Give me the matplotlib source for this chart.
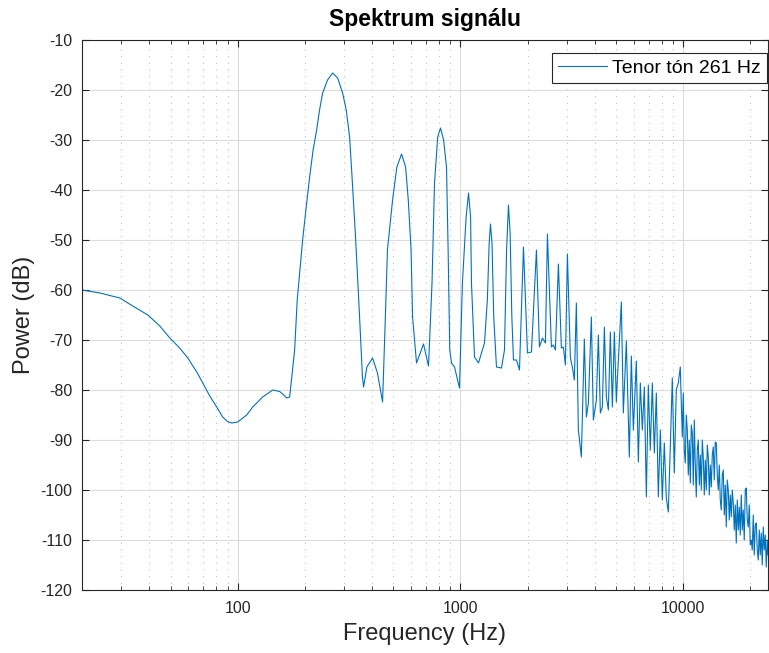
import numpy as np
import matplotlib
matplotlib.use("Agg")
import matplotlib.pyplot as plt
from matplotlib.ticker import FixedLocator, NullFormatter

plt.rcParams['font.family'] = ['Liberation Sans', 'DejaVu Sans']
plt.rcParams['axes.unicode_minus'] = False

# frekvencie (Hz) a vykon (dB) odcitane z grafu
freq_low = [20, 22, 24.1, 29.6, 33.8, 39.5, 44.7, 49.6, 54.9, 59.7, 65.5, 69.7, 74.9, 80.5, 85.6,
            90, 94.0, 100, 109.7, 116.8, 129.5, 143.6, 154.3, 160, 165.9, 171.1]
db_low = [-60, -60.3, -60.6, -61.6, -63.2, -65, -67.2, -69.6, -71.6, -73.6, -76.4, -78.6, -81.2, -83.4, -85.4,
          -86.3, -86.6, -86.4, -85, -83.4, -81.4, -80, -80.3, -80.9, -81.6, -81.4]

freq_mid = [180.1, 185, 195.6, 203, 210.3, 218, 226.1, 233, 240.6, 253, 266.7, 281, 295.8, 307, 317.9,
            326, 338, 352.4, 363, 367.3, 380, 403.0, 424, 446.9, 460, 470, 495.6, 518, 543.8,
            567, 583, 600, 609.3, 634.9, 682.5, 718.6, 745, 764.5, 790, 813.4, 840, 865.4,
            880, 895, 911.3, 940.0, 989.7, 1020, 1060, 1086.4, 1110, 1120, 1155.7, 1204.4, 1281.4,
            1320, 1345, 1363.2, 1385, 1410, 1450.4, 1527.3, 1575.3, 1610, 1641.7, 1670, 1700,
            1729.0, 1783.4, 1839.5, 1917.1, 1997.9, 2081.9, 2191.9, 2261.1, 2332.2, 2405.6,
            2455.5, 2559.0, 2612.4, 2666.7, 2750.5, 2837.0, 2896.3, 2956.8, 3018.5, 3113.6,
            3177.6, 3243.7, 3311.5, 3380.7, 3487.0, 3596.4, 3672.8, 3749.5, 3867.0, 3948.0,
            4072.4, 4157.0, 4244.0, 4332.4, 4423.0, 4515.2, 4609.6, 4706.0, 4804.1, 4904.4,
            5006.4, 5058.3, 5164.2, 5272.4, 5381.6, 5551.3, 5725.1, 5844.9, 5967.3, 6154.8,
            6284.1, 6415.6, 6549.0, 6686.0, 6825.9, 6966.7, 7112.5, 7261.3, 7413.1, 7567.1,
            7725.2, 7886.8, 8050.3, 8218.8, 8390.9, 8564.6, 8744.0, 8927.0, 9111.7, 9302.5,
            9497.2, 9693.9, 9896.6]
db_mid = [-72, -62, -50, -43.4, -37.4, -32, -28, -24, -20.6, -18, -16.6, -17.6, -20.6, -24, -29.4,
          -37.4, -49.4, -65.4, -77.4, -79.4, -75.4, -73.6, -76.6, -82.4, -65.4, -52, -42, -35.4, -32.8,
          -35.4, -42, -52, -65.4, -74.6, -70.8, -75.2, -58.6, -38.6, -29.4, -27.6, -30, -35.4,
          -52, -72, -74.6, -75.4, -79.6, -58.6, -45.4, -40.6, -45.4, -58.6, -73.4, -74.6, -70.6,
          -62, -50.6, -46.8, -50.6, -65.4, -75.4, -75.6, -72, -52, -43, -48.6, -65.4,
          -74, -74, -76, -51.4, -72.6, -72.4, -52, -71.4, -69.6, -70.6,
          -48.8, -71.4, -71, -72, -54.8, -71.6, -71.4, -75, -52.8, -73.6,
          -75.4, -78, -62.6, -88, -93.4, -69.8, -85.4, -82.6, -65.4, -86,
          -82, -69, -84.6, -83.4, -67.4, -81.4, -84, -68.4, -83.4, -68.4,
          -82.4, -78, -70, -62.4, -84.6, -70.2, -93.4, -73.2, -88, -74.2,
          -94.4, -78.6, -88, -79.4, -101.4, -79, -92, -78.6, -92.6, -80.6,
          -101.4, -88, -102, -90.6, -101.6, -104.4, -91.4, -77.6, -96.6, -80,
          -78.6, -75.4, -89.4]

freq_high = [10000, 10104, 10209, 10315, 10422, 10530, 10640, 10750, 10862, 10975, 11089, 11204,
             11320, 11438, 11556, 11676, 11798, 11920, 12044, 12169, 12296, 12423, 12552, 12683,
             12814, 12947, 13082, 13217, 13355, 13493, 13633, 13775, 13918, 14063, 14209, 14356,
             14505, 14656, 14808, 14962, 15117, 15274, 15433, 15593, 15755, 15918, 16084, 16251,
             16419, 16590, 16762, 16936, 17112, 17290, 17469, 17651, 17834, 18019, 18206, 18395,
             18586, 18779, 18974, 19171, 19370, 19571, 19774, 19980, 20187, 20397, 20608, 20822,
             21038, 21257, 21477, 21700, 21926, 22153, 22383, 22616, 22850, 23088, 23327, 23570,
             23814, 24000]
db_high = [-80.6, -92, -94.6, -85, -88, -97, -90, -98.6, -87, -88.6, -99, -86,
           -95, -101.4, -92, -90, -99, -93, -100, -90, -93.6, -101, -94, -100,
           -91, -93.4, -101, -95, -99.4, -93, -91.4, -98, -90.4, -90.6, -97, -100,
           -95, -102, -104, -97, -96, -105, -99, -107.4, -98, -100, -106, -101,
           -105.4, -100, -102.6, -108, -103, -110.6, -102, -108, -103.4, -109, -101, -108,
           -104, -110, -100, -99.6, -106, -107.4, -103, -111, -110, -112, -105, -113,
           -107, -106.6, -112, -114, -108, -113, -108.6, -115, -107.4, -112, -109, -115.4,
           -110, -113]

freq = np.array(freq_low + freq_mid + freq_high)
power = np.array(db_low + db_mid + db_high)

fig = plt.figure(figsize=(7.69, 6.53), dpi=100)
ax = fig.add_axes([0.1066, 0.0965, 0.8921, 0.8422])

ax.semilogx(freq, power, color='#0072BD', linewidth=0.8, label='Tenor tón 261 Hz')

ax.set_xlim(20, 24000)
ax.set_ylim(-120, -10)
ax.set_yticks(np.arange(-120, -9, 10))
ax.set_xticks([100, 1000, 10000])
ax.set_xticklabels(['100', '1000', '10000'])
minors = [m * 10 ** d for d in range(1, 5) for m in range(2, 10)]
ax.xaxis.set_minor_locator(FixedLocator(minors))
ax.xaxis.set_minor_formatter(NullFormatter())

ax.grid(True, which='major', color='#dcdcdc', linewidth=0.8, linestyle='-')
ax.grid(True, which='minor', axis='x', color='#c0c0c0', linewidth=0.8, linestyle=(0, (1, 5)))
ax.set_axisbelow(True)

ax.tick_params(which='both', direction='in', top=True, right=True, colors='#262626',
               labelsize=11.5, labelcolor='#262626')
ax.tick_params(axis='y', which='major', length=5, pad=7)
ax.tick_params(axis='x', which='major', length=5, pad=8)
ax.tick_params(which='minor', length=3)
for s in ax.spines.values():
    s.set_color('#262626')
    s.set_linewidth(0.8)

ax.set_xlabel('Frequency (Hz)', fontsize=17, color='#262626', labelpad=5)
ax.set_ylabel('Power (dB)', fontsize=17, color='#262626', labelpad=4)
ax.set_title('Spektrum signálu', fontsize=16.5, fontweight='bold', pad=10)

leg = ax.legend(loc='upper right', bbox_to_anchor=(0.9985, 0.976), borderaxespad=0,
                fontsize=14, fancybox=False, framealpha=1, edgecolor='#262626',
                handlelength=2.5, handletextpad=0.3, borderpad=0.3)
leg.get_frame().set_linewidth(0.8)

fig.savefig('out.png', dpi=100)
